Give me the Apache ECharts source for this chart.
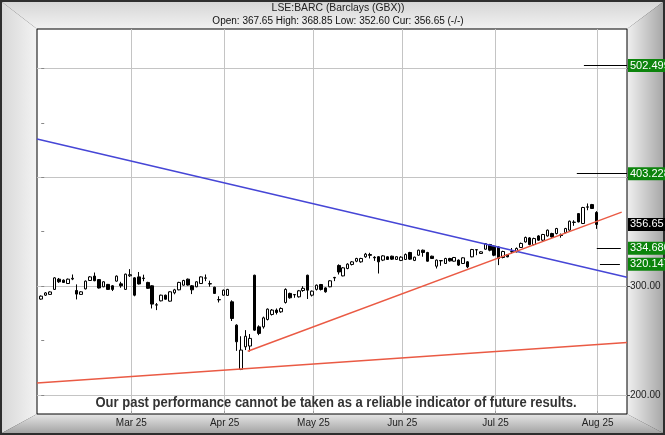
<!DOCTYPE html>
<html><head><meta charset="utf-8">
<script src="https://cdn.jsdelivr.net/npm/echarts@6/dist/echarts.min.js"></script>
<style>html,body{margin:0;padding:0;background:#fff}#c{width:665px;height:435px}</style>
</head><body><div id="c"></div>
<script>
// ---------- DATA ----------
const dates = [
 '2025-02-03','2025-02-04','2025-02-05','2025-02-06','2025-02-07','2025-02-10','2025-02-11','2025-02-12','2025-02-13','2025-02-14',
 '2025-02-17','2025-02-18','2025-02-19','2025-02-20','2025-02-21','2025-02-24','2025-02-25','2025-02-26','2025-02-27','2025-02-28',
 '2025-03-03','2025-03-04','2025-03-05','2025-03-06','2025-03-07','2025-03-10','2025-03-11','2025-03-12','2025-03-13','2025-03-14',
 '2025-03-17','2025-03-18','2025-03-19','2025-03-20','2025-03-21','2025-03-24','2025-03-25','2025-03-26','2025-03-27','2025-03-28','2025-03-31',
 '2025-04-01','2025-04-02','2025-04-03','2025-04-04','2025-04-07','2025-04-08','2025-04-09','2025-04-10','2025-04-11',
 '2025-04-14','2025-04-15','2025-04-16','2025-04-17','2025-04-22','2025-04-23','2025-04-24','2025-04-25','2025-04-28','2025-04-29','2025-04-30',
 '2025-05-01','2025-05-02','2025-05-06','2025-05-07','2025-05-08','2025-05-09','2025-05-12','2025-05-13','2025-05-14','2025-05-15','2025-05-16',
 '2025-05-19','2025-05-20','2025-05-21','2025-05-22','2025-05-23','2025-05-27','2025-05-28','2025-05-29','2025-05-30',
 '2025-06-02','2025-06-03','2025-06-04','2025-06-05','2025-06-06','2025-06-09','2025-06-10','2025-06-11','2025-06-12','2025-06-13',
 '2025-06-16','2025-06-17','2025-06-18','2025-06-19','2025-06-20','2025-06-23','2025-06-24','2025-06-25','2025-06-26','2025-06-27','2025-06-30',
 '2025-07-01','2025-07-02','2025-07-03','2025-07-04','2025-07-07','2025-07-08','2025-07-09','2025-07-10','2025-07-11',
 '2025-07-14','2025-07-15','2025-07-16','2025-07-17','2025-07-18','2025-07-21','2025-07-22','2025-07-23','2025-07-24','2025-07-25',
 '2025-07-28','2025-07-29','2025-07-30','2025-07-31','2025-08-01'
];
const opens = [
 288.1,291.7,292.4,297.0,306.4,305.5,302.4,306.5,296.0,292.4,297.5,305.2,309.2,306.0,299.4,301.6,300.3,304.6,302.1,297.0,
 309.5,307.6,308.5,307.0,303.4,300.3,282.6,286.5,291.7,286.2,293.9,296.6,300.9,306.4,300.3,299.4,302.4,307.3,302.0,299.0,287.4,
 291.7,291.5,285.6,264.2,223.6,244.3,245.0,310.0,262.6,262.6,269.4,274.0,278.0,276.4,285.0,293.3,292.0,290.2,296.0,310.0,
 291.7,297.0,301.5,298.4,299.4,307.5,319.0,309.4,316.2,319.9,322.9,322.3,326.9,329.0,326.5,327.0,323.9,326.9,327.5,324.5,
 323.6,324.5,330.9,323.6,328.4,333.0,330.9,327.5,318.3,323.2,320.8,325.4,322.9,323.9,320.8,322.3,326.9,333.2,330.0,333.9,338.2,
 336.7,336.0,326.3,329.0,331.5,331.5,335.5,340.6,344.3,338.2,346.1,342.2,346.1,348.3,348.3,347.0,349.2,351.4,358.5,
 366.6,357.5,372.5,374.9,367.65
];
const closes = [
 290.8,293.8,294.7,307.6,304.0,303.4,306.4,307.2,292.7,294.8,304.6,308.5,305.0,298.3,304.0,297.0,297.0,309.2,300.3,311.0,
 310.5,291.7,302.0,307.4,298.0,283.5,282.9,291.7,288.0,294.8,296.6,303.4,305.2,301.0,296.6,304.0,308.5,307.6,302.3,293.3,287.7,
 296.3,297.0,270.3,248.9,241.3,254.0,252.0,259.6,256.6,270.9,278.9,278.0,275.8,279.5,297.0,289.3,292.3,295.7,298.0,296.3,
 295.4,300.9,297.0,294.8,304.9,308.0,313.0,316.8,320.2,322.3,325.4,325.4,329.4,328.3,326.0,322.3,327.8,324.5,324.8,327.0,
 326.6,329.0,324.8,326.6,333.0,330.9,322.9,325.4,323.9,323.5,325.4,323.2,326.3,319.3,326.0,317.7,333.6,333.5,331.5,339.0,333.0,
 328.4,325.4,331.8,326.9,331.8,334.6,339.2,344.7,338.2,343.7,342.2,347.4,351.4,345.2,352.9,346.5,352.9,359.6,358.8,
 359.0,372.2,372.8,371.3,356.65
];
const lows = [
 287.5,291.0,292.0,296.5,303.0,303.0,302.0,305.5,287.8,292.0,297.0,304.8,304.5,297.8,299.0,296.5,295.5,304.2,298.5,296.5,
 308.5,290.7,301.5,304.5,297.5,279.5,278.0,286.0,287.5,285.8,292.5,296.2,300.5,300.5,292.7,299.0,302.0,304.6,299.5,292.8,285.0,
 291.2,291.0,268.0,240.6,222.9,241.3,240.0,259.0,255.0,261.0,268.5,273.0,274.0,275.5,284.0,288.5,289.3,289.5,294.8,288.2,
 290.5,296.0,296.0,294.0,299.0,304.6,310.7,309.0,315.5,319.0,322.0,321.5,326.0,325.4,323.2,311.6,323.0,324.0,324.0,324.0,
 323.0,324.0,324.0,323.0,328.0,327.0,322.5,325.0,316.2,318.7,320.3,322.5,322.5,318.5,320.3,316.5,326.5,328.4,329.5,333.5,332.0,
 327.5,319.3,325.5,326.5,330.0,331.0,335.0,340.0,337.5,337.5,341.5,341.5,345.5,344.5,347.5,344.5,348.5,351.0,355.4,
 358.5,357.0,369.7,370.8,352.6
];
const highs = [
 291.5,294.5,295.2,308.2,307.5,306.2,307.0,310.7,301.6,295.3,305.2,309.2,312.5,306.5,304.5,302.0,301.0,309.8,304.0,311.5,
 315.6,308.2,313.0,310.5,304.0,300.8,284.5,292.2,292.2,295.3,297.5,304.0,305.8,307.0,301.0,304.5,309.0,310.7,305.0,299.5,290.7,
 296.8,297.5,287.0,265.0,254.0,259.6,256.0,310.5,264.0,272.0,279.5,279.0,279.5,280.5,298.0,294.0,292.4,296.5,300.0,310.5,
 296.0,301.5,302.0,299.0,305.5,308.5,320.0,317.5,321.0,323.0,326.0,326.0,330.5,330.6,327.5,327.5,328.5,327.5,328.0,327.5,
 327.5,330.0,331.5,327.0,333.5,333.6,331.5,328.0,324.5,323.8,326.0,326.0,326.8,324.5,326.5,323.0,334.2,333.8,332.0,339.5,338.8,
 337.5,336.5,332.5,329.5,335.0,335.5,340.0,345.5,345.0,344.5,346.8,348.0,352.0,349.0,353.5,348.3,353.5,360.2,360.5,
 367.0,372.8,375.9,375.5,368.85
];
// trend lines: [trading-day index, price]
const blueTrend = [[-0.95, 435.1], [131.9, 308.1]];
const redTrendUpper = [[46.5, 240.2], [130.7, 368.0]];
const redTrendLower = [[-0.95, 211.0], [131.9, 248.3]];
// target levels
const targetValues = [502.499, 403.228, 334.68, 320.147];
const targetFrom = [122.2, 120.6, 125.1, 125.8];
const targetTo = [131.9, 131.9, 130.5, 130.3];
const currentValue = 356.65;
const yLabelValues = [200, 300];
const yGridValues = [200, 300, 400, 500];
const yMinorTicks = [200, 250, 300, 350, 400, 450, 500];
const monthAbbr = ['Jan','Feb','Mar','Apr','May','Jun','Jul','Aug','Sep','Oct','Nov','Dec'];
const titleLine1 = 'LSE:BARC (Barclays (GBX))';
const titleLine2 = 'Open: 367.65 High: 368.85 Low: 352.60 Cur: 356.65 (-/-)';
const disclaimer = 'Our past performance cannot be taken as a reliable indicator of future results.';

// ---------- BUILD ----------
const X_MIN = -0.95, X_MAX = 131.9, Y_MIN = 182.6, Y_MAX = 536.1;
const GRID_OFF = 0.3;
const FONT = 'Liberation Sans, Arial, Helvetica, sans-serif';
const candleData = dates.map((d, i) => [i, opens[i], closes[i], lows[i], highs[i]]);
const monthIdx = [], monthLab = [];
dates.forEach((d, i) => {
  if (i > 0 && d.slice(5, 7) !== dates[i - 1].slice(5, 7)) {
    monthIdx.push(i + GRID_OFF);
    monthLab.push(monthAbbr[+d.slice(5, 7) - 1] + ' ' + d.slice(2, 4));
  }
});
const GREEN = '#0c840c';
const boxLabel = (txt, bg) => ({ show: true, position: 'end', distance: 1, formatter: txt, opacity: 1,
  backgroundColor: bg, color: '#fff', fontSize: 11, padding: [1, 3, 0, 2], lineHeight: 12, fontFamily: FONT });
const markData = [];
targetValues.forEach((v, k) => {
  markData.push([{ coord: [targetFrom[k], v] }, { coord: [targetTo[k], v] }]);
});
targetValues.forEach(v => {
  markData.push({ yAxis: v, lineStyle: { color: 'rgba(0,0,0,0)', width: 0 }, label: boxLabel(v.toFixed(3), GREEN) });
});
markData.push({ yAxis: currentValue, lineStyle: { color: 'rgba(0,0,0,0)', width: 0 }, label: boxLabel(currentValue.toFixed(2), '#000') });

// horizontal squeeze of the disclaimer to match a narrow bold face
const DISC_FONT = 'bold 14px Liberation Sans, Arial, sans-serif';
const mctx = document.createElement('canvas').getContext('2d');
mctx.font = DISC_FONT;
const discScale = 481 / mctx.measureText(disclaimer).width;

const lg = (x0, y0, x1, y1, c0, c1) => new echarts.graphic.LinearGradient(x0, y0, x1, y1, [{ offset: 0, color: c0 }, { offset: 1, color: c1 }]);

const chart = echarts.init(document.getElementById('c'), null, { renderer: 'canvas', width: 665, height: 435 });
chart.setOption({
  animation: false,
  graphic: { elements: [
    { type: 'rect', z: -100, shape: { x: 0, y: 0, width: 665, height: 435 }, style: { fill: '#2e2e2e' } },
    { type: 'polygon', z: -99, shape: { points: [[2, 2], [663, 2], [627, 29], [37, 29]] }, style: { fill: lg(0, 0, 0, 1, '#d6d6d6', '#f2f2f2') } },
    { type: 'polygon', z: -99, shape: { points: [[2, 2], [37, 29], [37, 414], [2, 433]] }, style: { fill: lg(0, 0, 1, 0, '#d8d8d8', '#f3f3f3') } },
    { type: 'polygon', z: -99, shape: { points: [[663, 2], [663, 433], [627, 414], [627, 29]] }, style: { fill: lg(0, 0, 1, 0, '#f0f0f0', '#a8a8a8') } },
    { type: 'polygon', z: -99, shape: { points: [[2, 433], [37, 414], [627, 414], [663, 433]] }, style: { fill: lg(0, 0, 0, 1, '#e6e6e6', '#a4a4a4') } },
    { type: 'text', z: 50, x: 338, y: 8, style: { text: titleLine1, fill: '#222', font: '10.4px ' + FONT, align: 'center', verticalAlign: 'middle' } },
    { type: 'text', z: 50, x: 338, y: 21, style: { text: titleLine2, fill: '#111', font: '10px ' + FONT, align: 'center', verticalAlign: 'middle' } },
    { type: 'text', z: 50, x: 336, y: 403, scaleX: discScale, style: { text: disclaimer, fill: '#333', font: DISC_FONT, align: 'center', verticalAlign: 'middle' } }
  ] },
  grid: { left: 37, top: 29, width: 590, height: 385, show: true, backgroundColor: '#fff', borderColor: '#000', borderWidth: 1, containLabel: false, outerBoundsMode: 'none' },
  xAxis: {
    type: 'value', min: X_MIN, max: X_MAX,
    axisLine: { show: false },
    axisTick: { show: true, customValues: monthIdx, length: 3, inside: true, lineStyle: { color: '#999' } },
    axisLabel: { customValues: monthIdx, formatter: v => monthLab[monthIdx.findIndex(m => Math.abs(m - v) < 0.01)] || '',
      color: '#222', fontSize: 10, margin: 4, fontFamily: FONT },
    splitLine: { show: true, lineStyle: { color: '#c4c4c4', width: 1 } }
  },
  yAxis: [
    { type: 'value', position: 'left', min: Y_MIN, max: Y_MAX,
      axisLine: { show: false }, axisLabel: { show: false },
      axisTick: { show: true, customValues: yMinorTicks, inside: true, length: 3, lineStyle: { color: '#888' } },
      splitLine: { show: false } },
    { type: 'value', position: 'right', min: Y_MIN, max: Y_MAX,
      axisLine: { show: false },
      axisTick: { show: true, customValues: yGridValues, length: 3, lineStyle: { color: '#444' } },
      axisLabel: { customValues: yLabelValues, formatter: v => v.toFixed(2), color: '#222', fontSize: 10, margin: 3, fontFamily: FONT },
      splitLine: { show: true, lineStyle: { color: '#c4c4c4', width: 1 } } }
  ],
  series: [
    { type: 'candlestick', xAxisIndex: 0, yAxisIndex: 0, data: candleData, encode: { x: 0, y: [1, 2, 3, 4] },
      barWidth: 3, z: 3,
      itemStyle: { color: '#fff', color0: '#000', borderColor: '#000', borderColor0: '#000', borderWidth: 1 } },
    { type: 'line', data: blueTrend, symbol: 'none', z: 4, lineStyle: { color: '#4646d6', width: 1.5 } },
    { type: 'line', data: redTrendUpper, symbol: 'none', z: 4, lineStyle: { color: '#ea5a44', width: 1.5 } },
    { type: 'line', data: redTrendLower, symbol: 'none', z: 4, lineStyle: { color: '#ea5a44', width: 1.5 } },
    { type: 'line', data: [], z: 5, clip: false,
      markLine: { silent: true, symbol: ['none', 'none'], animation: false,
        lineStyle: { color: '#000', width: 1, type: 'solid' }, label: { show: false },
        data: markData } }
  ]
});
</script></body></html>
